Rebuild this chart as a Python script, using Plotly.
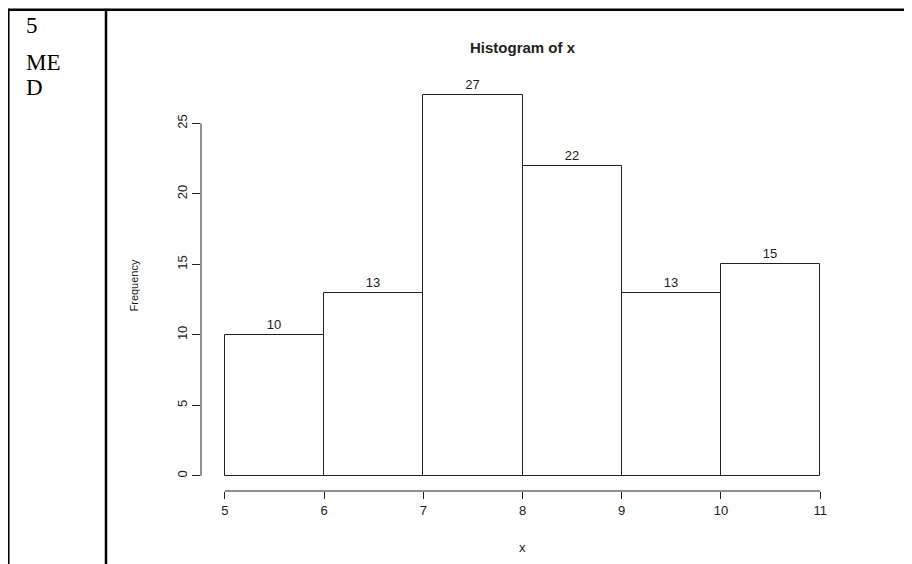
import plotly.graph_objects as go

# ---- data ----
bin_edges = [5, 6, 7, 8, 9, 10, 11]
frequencies = [10, 13, 27, 22, 13, 15]
x_ticks = [5, 6, 7, 8, 9, 10, 11]
y_ticks = [0, 5, 10, 15, 20, 25]
side_text = ["5", "ME", "D"]

mids = [(a + b) / 2 for a, b in zip(bin_edges[:-1], bin_edges[1:])]
widths = [b - a for a, b in zip(bin_edges[:-1], bin_edges[1:])]

# page has an 8px body margin; figure is sized to fill the rest
OFF = 8
W, H = 912 - OFF, 564 - OFF
L, R, T, B = 201 - OFF, 68, 79.5 - OFF, 72.5
PW, PH = W - L - R, H - T - B

def px(x):  # page pixel -> paper x
    return (x - OFF - L) / PW

def py(y):  # page pixel -> paper y
    return (H - B - (y - OFF)) / PH

FONT = "Liberation Sans, Arial, sans-serif"
SERIF = "Liberation Serif, Times New Roman, serif"
INK = "#222222"

fig = go.Figure()
fig.add_trace(go.Bar(
    x=mids, y=frequencies, width=widths,
    marker=dict(color="white", line=dict(color=INK, width=1)),
    text=[str(v) for v in frequencies], textposition="outside",
    textfont=dict(family=FONT, size=13, color=INK),
    cliponaxis=False, hoverinfo="skip",
))

xmin, xmax = bin_edges[0], bin_edges[-1]
xpad = 0.04 * (xmax - xmin)
ymax = max(frequencies)
ypad = 0.04 * ymax

shapes = [
    # R-style axis lines spanning the tick range
    dict(type="line", xref="x", yref="paper", x0=x_ticks[0], x1=x_ticks[-1], y0=0, y1=0,
         line=dict(color=INK, width=1)),
    dict(type="line", xref="paper", yref="y", x0=0, x1=0, y0=y_ticks[0], y1=y_ticks[-1],
         line=dict(color=INK, width=1)),
    # table borders
    dict(type="line", xref="paper", yref="paper", x0=px(7), x1=px(914), y0=py(9), y1=py(9),
         line=dict(color="black", width=2.5)),
    dict(type="line", xref="paper", yref="paper", x0=px(8.3), x1=px(8.3), y0=py(8), y1=py(566),
         line=dict(color="black", width=2.5)),
    dict(type="line", xref="paper", yref="paper", x0=px(106), x1=px(106), y0=py(8), y1=py(566),
         line=dict(color="black", width=2.5)),
]

annotations = [
    dict(text="<b>Histogram of x</b>", xref="paper", yref="paper", x=0.5, y=py(47),
         showarrow=False, font=dict(family=FONT, size=15, color=INK), xanchor="center", yanchor="middle"),
    dict(text="x", xref="paper", yref="paper", x=0.5, y=py(548),
         showarrow=False, font=dict(family=FONT, size=13, color=INK), xanchor="center", yanchor="middle"),
    dict(text="Frequency", xref="paper", yref="paper", x=px(133), y=0.5, textangle=-90,
         showarrow=False, font=dict(family=FONT, size=11, color=INK), xanchor="center", yanchor="middle"),
]
for txt, ypix in zip(side_text, [25, 62, 87]):
    annotations.append(dict(text=txt, xref="paper", yref="paper", x=px(24), y=py(ypix),
                            showarrow=False, font=dict(family=SERIF, size=23, color="black"),
                            xanchor="left", yanchor="middle"))

fig.update_layout(
    width=W, height=H,
    margin=dict(l=L, r=R, t=T, b=B, autoexpand=False),
    paper_bgcolor="white", plot_bgcolor="white",
    showlegend=False, bargap=0,
    shapes=shapes, annotations=annotations,
    xaxis=dict(range=[xmin - xpad, xmax + xpad], tickvals=x_ticks, ticktext=[str(t) for t in x_ticks],
               ticks="outside", ticklen=7, tickcolor=INK, showgrid=False, zeroline=False,
               showline=False, tickfont=dict(family=FONT, size=13, color=INK)),
    yaxis=dict(range=[-ypad, ymax + ypad], tickvals=y_ticks, ticktext=[str(t) for t in y_ticks],
               ticks="outside", ticklen=8, tickcolor=INK, showgrid=False, zeroline=False,
               showline=False, tickangle=-90, tickfont=dict(family=FONT, size=13, color=INK)),
)

fig.write_html("out.html")
